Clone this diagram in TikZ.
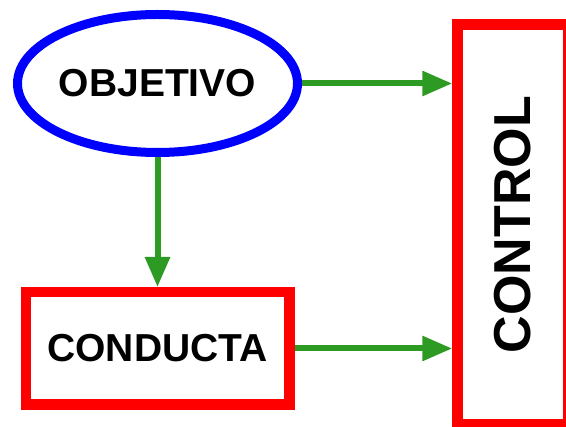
\documentclass[tikz,border=0pt]{standalone}
\usepackage{fontspec}
\setmainfont{Liberation Sans}
\usetikzlibrary{positioning, arrows.meta, shapes.geometric}
\definecolor{objblue}{RGB}{0,0,255}
\definecolor{ctrlred}{RGB}{255,0,0}
\definecolor{arrowgreen}{RGB}{45,155,35}
\tikzset{
    every node/.style={font=\bfseries\fontsize{39}{47}\selectfont},
    blueellipse/.style={draw=objblue, ellipse, line width=9pt, inner sep=0pt, minimum width=280pt, minimum height=138pt, align=center},
    redbox/.style={draw=ctrlred, line width=10.5pt, align=center},
    arrow/.style={-{Triangle[length=30pt, width=24pt]}, line width=6pt, draw=arrowgreen},
}

\begin{document}
\begin{tikzpicture}[x=1pt, y=-1pt]
\useasboundingbox (0,0) rectangle (566,427);

\node[blueellipse] (goal) at (157.5,83.5) {OBJETIVO};
\node[redbox, minimum width=263.5pt, minimum height=112.5pt, below=130pt of goal] (conducta) {CONDUCTA};
% tall box on the right, text turned upwards
\node[redbox, minimum width=111pt, minimum height=400pt] (control) at (513,224.5)
  {\rotatebox{90}{\fontsize{52}{62}\selectfont CONTROL}};

\draw[arrow] (goal.east) -- (goal.east -| control.west);
\draw[arrow] (goal.south) -- (conducta.north);
\draw[arrow] (conducta.east) -- (conducta.east -| control.west);

\end{tikzpicture}
\end{document}
